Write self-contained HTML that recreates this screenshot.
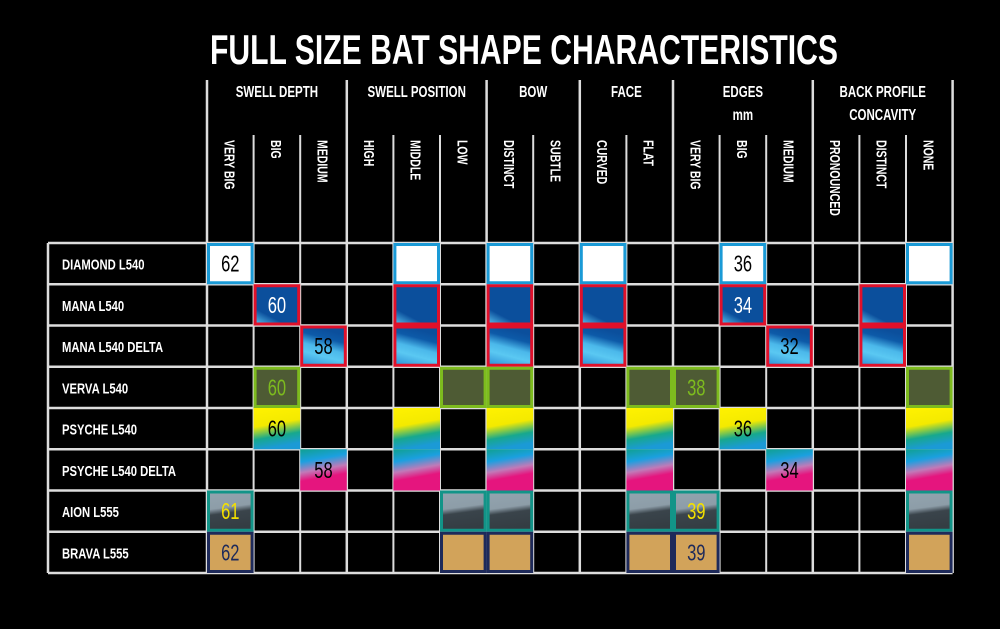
<!DOCTYPE html>
<html><head><meta charset="utf-8"><style>
html,body{margin:0;padding:0;background:#000;}
svg{display:block;}
text{font-family:"Liberation Sans",sans-serif;}
</style></head><body>
<svg id="chart" width="1000" height="629" viewBox="0 0 1000 629" xmlns="http://www.w3.org/2000/svg">
<defs>
<linearGradient id="g-mana" x1="0" y1="1" x2="0.6" y2="0"><stop offset="0" stop-color="#5ac2ee"/><stop offset="0.3" stop-color="#0b4f9c"/><stop offset="1" stop-color="#0b4f9c"/></linearGradient>
<linearGradient id="g-delta" x1="0" y1="1" x2="0.3" y2="0"><stop offset="0" stop-color="#2d8fd6"/><stop offset="0.35" stop-color="#5ac8f2"/><stop offset="0.55" stop-color="#4bb8ea"/><stop offset="0.8" stop-color="#0d5aa8"/><stop offset="1" stop-color="#0b4f9c"/></linearGradient>
<linearGradient id="g-psyche" x1="0" y1="0" x2="0.2" y2="1"><stop offset="0" stop-color="#fff200"/><stop offset="0.45" stop-color="#f4ea00"/><stop offset="0.75" stop-color="#17a88d"/><stop offset="1" stop-color="#1b9ad6"/></linearGradient>
<linearGradient id="g-pdelta" x1="0" y1="0" x2="0.2" y2="1"><stop offset="0" stop-color="#10a090"/><stop offset="0.3" stop-color="#1aa0e0"/><stop offset="0.55" stop-color="#c07ab8"/><stop offset="0.75" stop-color="#e5157e"/><stop offset="1" stop-color="#e5157e"/></linearGradient>
<linearGradient id="g-aion" x1="0" y1="0" x2="0.15" y2="1"><stop offset="0" stop-color="#93a4af"/><stop offset="0.45" stop-color="#8d9da8"/><stop offset="0.6" stop-color="#3a444b"/><stop offset="1" stop-color="#343d43"/></linearGradient>
</defs>
<text x="210" y="64" font-size="42" font-weight="bold" fill="#fff" textLength="628" lengthAdjust="spacingAndGlyphs">FULL SIZE BAT SHAPE CHARACTERISTICS</text>
<g id="grid"></g><g id="cells"></g><g id="labels"></g>
</svg>
<script>
const groups = ["SWELL DEPTH","SWELL POSITION","BOW","FACE","EDGES|mm","BACK PROFILE|CONCAVITY"];
const groupSpans = [3,3,2,2,3,3];
const columns = ["VERY BIG","BIG","MEDIUM","HIGH","MIDDLE","LOW","DISTINCT","SUBTLE","CURVED","FLAT","VERY BIG","BIG","MEDIUM","PRONOUNCED","DISTINCT","NONE"];
const bats = ["DIAMOND L540","MANA L540","MANA L540 DELTA","VERVA L540","PSYCHE L540","PSYCHE L540 DELTA","AION L555","BRAVA L555"];
const swellDepthCol = [0,1,2,1,1,2,0,0];
const swellDepthMm = [62,60,58,60,60,58,61,62];
const swellPosCol = [4,4,4,5,4,4,5,5];
const bowCol = [6,6,6,6,6,6,6,6];
const faceCol = [8,8,8,9,9,9,9,9];
const edgeCol = [11,11,12,10,11,12,10,10];
const edgeMm = [36,34,32,38,36,34,39,39];
const backCol = [15,14,14,15,15,15,15,15];
const fills = ["#ffffff","url(#g-mana)","url(#g-delta)","#4e5b34","url(#g-psyche)","url(#g-pdelta)","url(#g-aion)","#d2a35a"];
const borders = ["#1a9ad6","#e0102a","#e0102a","#7dbb1e","none","none","#129488","#1e2a5a"];
const textCols = ["#000","#fff","#000","#7dbb1e","#000","#000","#f4e000","#1e2a5a"];

const NS="http://www.w3.org/2000/svg";
const X0=207, CW=46.6, LX=48, Y0=243, RH=41.25, TOP=80, SUBTOP=135;
const cx=i=>X0+i*CW, ry=r=>Y0+r*RH;
function mk(tag,attrs,parent){const e=document.createElementNS(NS,tag);for(const k in attrs)e.setAttribute(k,attrs[k]);parent.appendChild(e);return e;}
const squeezed=[];
const grid=document.getElementById('grid'), cells=document.getElementById('cells'), labels=document.getElementById('labels');
const bottom=ry(bats.length), right=cx(columns.length);
for(let r=0;r<=bats.length;r++){const l=mk('line',{x1:LX,x2:right,y1:ry(r),y2:ry(r),stroke:'#ddd','stroke-width':2.5},grid);

}
const lb=mk('line',{x1:LX,x2:LX,y1:Y0,y2:bottom,stroke:'#ddd','stroke-width':2.5},grid);


let acc=0; const bounds=[0];
groupSpans.forEach(s=>{acc+=s;bounds.push(acc);});
for(let i=0;i<=columns.length;i++){const isG=bounds.includes(i);
const l=mk('line',{x1:cx(i),x2:cx(i),y1:isG?TOP:SUBTOP,y2:bottom,stroke:'#ddd','stroke-width':isG?2.5:2},grid);

}
groups.forEach((g,gi)=>{const mid=(cx(bounds[gi])+cx(bounds[gi+1]))/2; const parts=g.split('|');
parts.forEach((p,pi)=>{const t=mk('text',{x:mid,y:97+pi*23,'font-size':16,'font-weight':'bold',fill:'#fff','text-anchor':'middle'},labels);t.textContent=p;


squeezed.push([t,0.72]);});});
columns.forEach((c,i)=>{const x=cx(i)+CW/2-6;const t=mk('text',{x:x,y:140,'font-size':15,'font-weight':'bold',fill:'#fff',transform:`rotate(90 ${x} 140)`},labels);t.textContent=c;


squeezed.push([t,0.7]);});
bats.forEach((b,r)=>{
 const t=mk('text',{x:62,y:ry(r)+RH/2+6,'font-size':15,'font-weight':'bold',fill:'#fff'},labels);t.textContent=b;
 
 
 squeezed.push([t,0.75]);
 const list=[[swellDepthCol[r],swellDepthMm[r]],[swellPosCol[r],null],[bowCol[r],null],[faceCol[r],null],[edgeCol[r],edgeMm[r]],[backCol[r],null]];
 list.forEach(([c,v])=>{
  const bw=borders[r]==='none'?0:3;
  const rect=mk('rect',{x:cx(c)+bw/2,y:ry(r)+bw/2,width:CW-bw,height:RH-bw,fill:fills[r],stroke:borders[r],'stroke-width':bw},cells);
  
  
  if(v!==null){const n=mk('text',{x:cx(c)+CW/2,y:ry(r)+RH/2+8,'font-size':23,fill:textCols[r],'text-anchor':'middle'},cells);n.textContent=v;
  
  
  squeezed.push([n,0.72]);}
 });
});
squeezed.forEach(([t,f])=>{const L=t.getComputedTextLength();if(L>0){t.setAttribute('textLength',(L*f).toFixed(1));t.setAttribute('lengthAdjust','spacingAndGlyphs');}});
</script>
</body></html>
